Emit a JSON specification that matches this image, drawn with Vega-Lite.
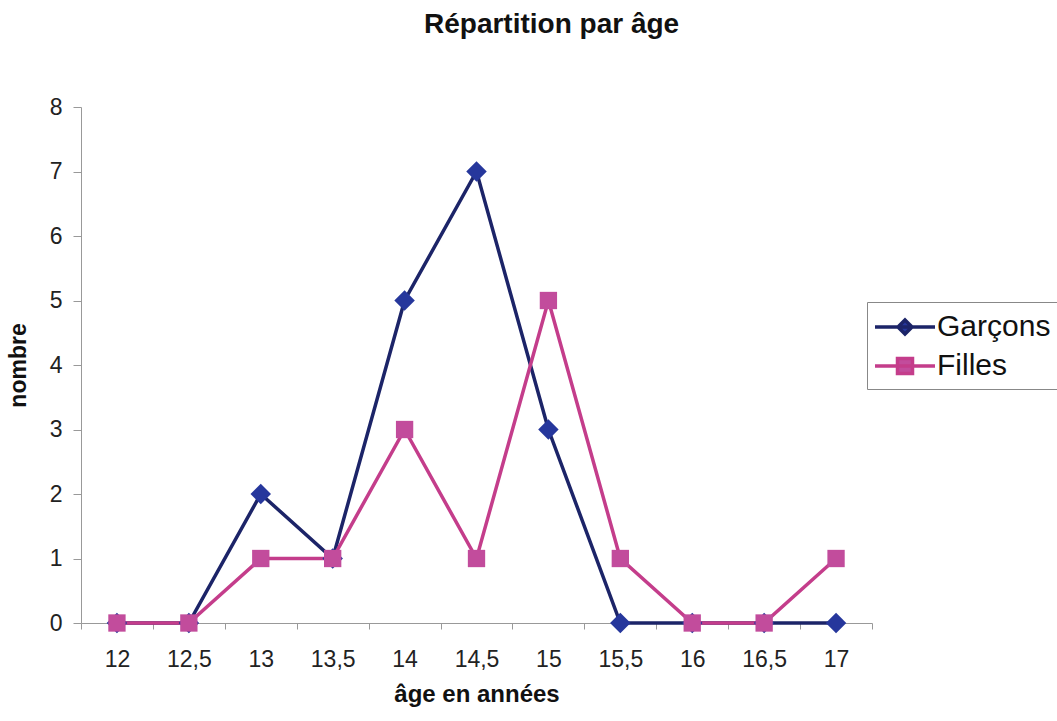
{
  "$schema": "https://vega.github.io/schema/vega-lite/v6.json",
  "width": 791,
  "height": 516,
  "autosize": {"type": "none"},
  "padding": {"left": 81, "top": 107, "right": 185, "bottom": 98},
  "background": "white",
  "title": {"text": "Répartition par âge", "anchor": "start", "dx": 417, "offset": 57, "fontSize": 28, "font": "Liberation Sans", "fontWeight": "bold", "color": "#111"},
  "data": {"values": [
    {"age": "12", "serie": "Garçons", "n": 0},
    {"age": "12,5", "serie": "Garçons", "n": 0},
    {"age": "13", "serie": "Garçons", "n": 2},
    {"age": "13,5", "serie": "Garçons", "n": 1},
    {"age": "14", "serie": "Garçons", "n": 5},
    {"age": "14,5", "serie": "Garçons", "n": 7},
    {"age": "15", "serie": "Garçons", "n": 3},
    {"age": "15,5", "serie": "Garçons", "n": 0},
    {"age": "16", "serie": "Garçons", "n": 0},
    {"age": "16,5", "serie": "Garçons", "n": 0},
    {"age": "17", "serie": "Garçons", "n": 0},
    {"age": "12", "serie": "Filles", "n": 0},
    {"age": "12,5", "serie": "Filles", "n": 0},
    {"age": "13", "serie": "Filles", "n": 1},
    {"age": "13,5", "serie": "Filles", "n": 1},
    {"age": "14", "serie": "Filles", "n": 3},
    {"age": "14,5", "serie": "Filles", "n": 1},
    {"age": "15", "serie": "Filles", "n": 5},
    {"age": "15,5", "serie": "Filles", "n": 1},
    {"age": "16", "serie": "Filles", "n": 0},
    {"age": "16,5", "serie": "Filles", "n": 0},
    {"age": "17", "serie": "Filles", "n": 1}
  ]},
  "encoding": {
    "x": {
      "field": "age", "type": "ordinal", "sort": null, "bandPosition": 0.5,
      "scale": {"type": "band", "paddingInner": 0, "paddingOuter": 0},
      "axis": {
        "tickBand": "extent", "labelAngle": 0,
        "domainColor": "#999", "tickColor": "#999", "tickSize": 6,
        "labelFontSize": 23, "labelFont": "Liberation Sans", "labelColor": "#222", "labelPadding": 19,
        "title": "âge en années", "titleFontSize": 24, "titleFont": "Liberation Sans", "titleFontWeight": "bold", "titleColor": "#111",
        "titleY": 78, "titleBaseline": "alphabetic"
      }
    },
    "y": {
      "field": "n", "type": "quantitative",
      "scale": {"domain": [0, 8], "nice": false},
      "axis": {
        "values": [0, 1, 2, 3, 4, 5, 6, 7, 8], "grid": false,
        "domainColor": "#999", "tickColor": "#999", "tickSize": 8,
        "labelFontSize": 23, "labelFont": "Liberation Sans", "labelColor": "#222", "labelPadding": 11,
        "title": "nombre", "titleFontSize": 23, "titleFont": "Liberation Sans", "titleFontWeight": "bold", "titleColor": "#111",
        "titleX": -63, "titleY": 258, "titleAlign": "center", "titleBaseline": "middle"
      }
    },
    "color": {
      "field": "serie", "type": "nominal", "sort": ["Garçons", "Filles"],
      "scale": {"domain": ["Garçons", "Filles"], "range": ["#1c2468", "#c43d8b"]},
      "legend": {
        "orient": "none", "legendX": 786, "legendY": 195, "title": null,
        "strokeColor": "#888", "fillColor": "white", "padding": 8,
        "labelFontSize": 30, "labelFont": "Liberation Sans", "labelColor": "#111",
        "symbolSize": 900, "rowPadding": 7, "symbolOffset": 13, "labelOffset": 15,
        "symbolStrokeWidth": 3.5,
        "encode": {
          "symbols": {
            "update": {
              "shape": {"signal": "datum.value == 'Garçons' ? 'M-2,0H2M0,-0.47L0.47,0L0,0.47L-0.47,0Z' : 'M-2,0H2M-0.5,-0.5H0.5V0.5H-0.5Z'"},
              "fill": {"signal": "datum.value == 'Garçons' ? '#26379c' : '#c24c9c'"},
              "stroke": {"signal": "datum.value == 'Garçons' ? '#1c2468' : '#c43d8b'"},
              "strokeWidth": {"value": 3.5},
              "opacity": {"value": 1},
              "fillOpacity": {"value": 1},
              "strokeOpacity": {"value": 1}
            }
          }
        }
      }
    }
  },
  "layer": [
    {"mark": {"type": "line", "strokeWidth": 3.5}},
    {
      "transform": [{"filter": "datum.serie == 'Garçons'"}],
      "mark": {"type": "point", "shape": "diamond", "filled": true, "opacity": 1, "size": 420},
      "encoding": {"color": {"value": "#26379c"}}
    },
    {
      "transform": [{"filter": "datum.serie == 'Filles'"}],
      "mark": {"type": "point", "shape": "square", "filled": true, "opacity": 1, "size": 300},
      "encoding": {"color": {"value": "#c24c9c"}}
    }
  ],
  "config": {"view": {"stroke": null}}
}
